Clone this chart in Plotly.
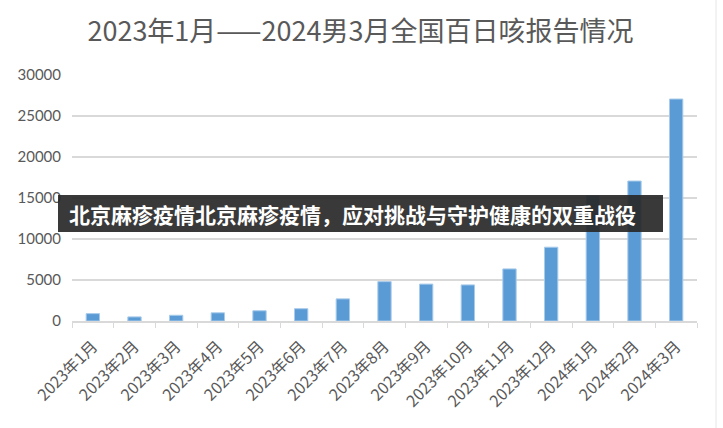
import plotly.graph_objects as go

months = ["2023年1月", "2023年2月", "2023年3月", "2023年4月", "2023年5月", "2023年6月",
          "2023年7月", "2023年8月", "2023年9月", "2023年10月", "2023年11月", "2023年12月",
          "2024年1月", "2024年2月", "2024年3月"]
cases = [900, 500, 700, 1000, 1250, 1500, 2700, 4800, 4500, 4400, 6350, 9000, 15275, 17070, 27070]
y_ticks = [0, 5000, 10000, 15000, 20000, 25000, 30000]
y_tick_labels = ["0", "5000", "10000", "15000", "20000", "25000", "30000"]

title_text = "2023年1月——2024男3月全国百日咳报告情况"
banner_text = "北京麻疹疫情北京麻疹疫情，应对挑战与守护健康的双重战役"

W, H = 723, 428
L, R, T, B = 72, 26, 75, 107
pw, ph = W - L - R, H - T - B

def px_x(p):
    return (p - L) / pw

def px_y(p):
    return (H - B - p) / ph

fig = go.Figure()
fig.add_trace(go.Bar(
    x=months, y=cases,
    marker=dict(color="#5b9bd5", line=dict(color="#a9cbea", width=1)),
    hoverinfo="x+y",
))

fig.update_layout(
    width=W, height=H,
    margin=dict(l=L, r=R, t=T, b=B),
    paper_bgcolor="white", plot_bgcolor="white",
    bargap=0.68,
    showlegend=False,
    font=dict(family="Noto Sans CJK SC", color="#595959"),
    title=dict(text=title_text, x=0.4986, xanchor="center", y=1 - 32 / H, yanchor="middle",
               font=dict(family="Noto Sans CJK SC", size=27, color="#595959")),
    xaxis=dict(
        type="category", tickangle=-45, tickson="boundaries", ticks="outside", ticklen=5,
        tickcolor="#d9d9d9", showline=True, linecolor="#d9d9d9", linewidth=1.5,
        tickfont=dict(family="Noto Sans CJK SC", size=16, color="#595959"),
        ticklabelstandoff=8,
        showgrid=False,
    ),
    yaxis=dict(
        range=[0, 30000], tickvals=y_ticks, ticktext=y_tick_labels,
        showgrid=True, gridcolor="#d9d9d9", gridwidth=1.5,
        zeroline=False, showline=False, ticks="", ticklabelstandoff=10,
        tickfont=dict(family="Lato", size=15, color="#595959"),
    ),
)

fig.add_shape(type="rect", xref="paper", yref="paper",
              x0=px_x(58), x1=px_x(663), y0=px_y(232), y1=px_y(195),
              fillcolor="rgba(40,40,40,0.92)", line=dict(width=0), layer="above")
fig.add_annotation(text="<b>" + banner_text + "</b>", xref="paper", yref="paper",
                   x=px_x(67), y=px_y(213.5), xanchor="left", yanchor="middle", showarrow=False,
                   font=dict(family="Noto Sans CJK SC", size=21, color="white"))

fig.add_shape(type="line", xref="paper", yref="paper",
              x0=px_x(716), x1=px_x(716), y0=px_y(428), y1=px_y(0),
              line=dict(color="#e6e6e6", width=1))

fig.write_html("out.html")
